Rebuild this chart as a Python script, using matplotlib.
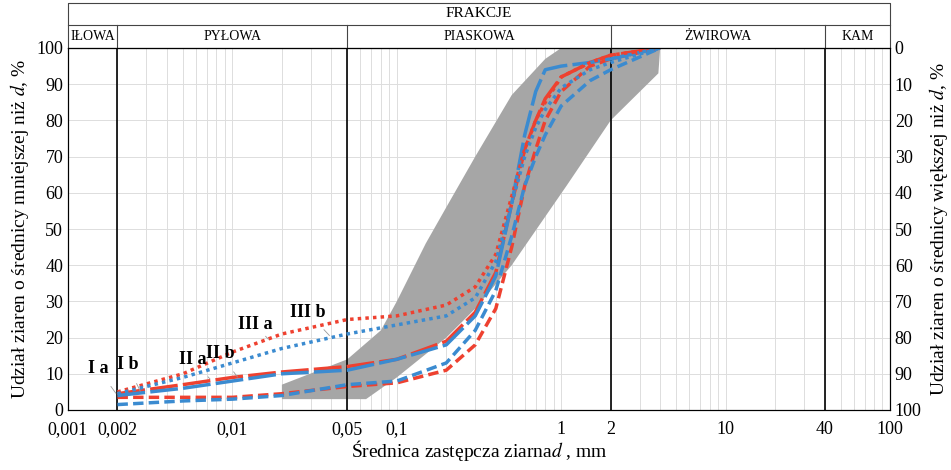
import matplotlib
matplotlib.use("Agg")
import matplotlib.pyplot as plt
import numpy as np

d = [0.002, 0.005, 0.01, 0.02, 0.05, 0.1, 0.2, 0.3, 0.4, 0.5, 0.6, 0.7, 0.8, 1, 1.5, 2, 4]
Ia   = [3.5, 3.5, 3.5, 4.5, 6.5, 7.5, 11, 18, 28, 45, 62, 72, 80, 88, 95, 97, 100]
Ib   = [1.5, 2.5, 3, 4, 7, 8, 13, 22, 33, 48, 62, 70, 76, 84, 91, 94, 100]
IIa  = [4.5, 7, 9, 10.5, 12, 14, 19, 27, 38, 57, 72, 80, 86, 92, 96, 98, 100]
IIb  = [4, 6, 8, 10, 11, 14, 18, 26, 37, 57, 76, 88, 94, 95, 96, 97, 100]
IIIa = [5, 10, 16, 21, 25, 26, 29, 34, 43, 59, 72, 80, 85, 92, 96, 98, 100]
IIIb = [4.5, 9, 13, 17, 21, 23.5, 26, 31, 41, 57, 70, 78, 83, 89, 94, 96, 100]

band_up_d = [0.02, 0.05, 0.08, 0.1, 0.15, 0.2, 0.3, 0.5, 0.8, 1.0, 4.0]
band_up = [7, 14, 22, 30, 46, 56, 70, 87, 97, 100, 100]
band_lo_d = [0.02, 0.065, 0.1, 0.2, 0.3, 0.5, 1.08, 2.0, 3.9]
band_lo = [3, 3, 9, 20, 28, 40, 62, 80, 93]

xticks = [0.001, 0.002, 0.01, 0.05, 0.1, 1, 2, 10, 40, 100]
xlabels = ["0,001", "0,002", "0,01", "0,05", "0,1", "1", "2", "10", "40", "100"]
bounds = [0.001, 0.002, 0.05, 2, 40, 100]
fractions = ["IŁOWA", "PYŁOWA", "PIASKOWA", "ŻWIROWA", "KAM"]

plt.rcParams['font.family'] = ['Liberation Serif', 'DejaVu Serif']
plt.rcParams['mathtext.fontset'] = 'stix'
fig = plt.figure(figsize=(9.51, 4.70), dpi=100)
ax = fig.add_axes([68/951, 60/470, 822/951, 362/470])
ax.set_xscale('log')
ax.set_xlim(0.001, 100)
ax.set_ylim(0, 100)

poly_x = band_up_d + band_lo_d[::-1]
poly_y = band_up + band_lo[::-1]
ax.fill(poly_x, poly_y, color='#a6a6a6', lw=0, zorder=1)

red = '#ee4130'; blue = '#3b8bd0'
ax.plot(d, Ia, color=red, lw=2.5, ls=(0, (3, 1.5)), zorder=3)
ax.plot(d, Ib, color=blue, lw=2.5, ls=(0, (3, 1.5)), zorder=3)
ax.plot(d, IIa, color=red, lw=2.5, ls=(0, (8, 1.5)), zorder=3)
ax.plot(d, IIb, color=blue, lw=2.5, ls=(0, (8, 1.5)), zorder=3)
ax.plot(d, IIIa, color=red, lw=2.5, ls=(0, (1, 1.2)), zorder=3)
ax.plot(d, IIIb, color=blue, lw=2.5, ls=(0, (1, 1.2)), zorder=3)

ax.grid(True, which='both', axis='x', color='#dddddd', lw=0.7, zorder=0)
ax.grid(True, which='major', axis='y', color='#dddddd', lw=0.7, zorder=0)
ax.set_axisbelow(True)
for b in bounds[1:-1]:
    ax.axvline(b, color='black', lw=1.2, zorder=2)

ax.set_xticks(xticks)
ax.set_xticklabels(xlabels, fontsize=13)
ax.xaxis.set_minor_formatter(matplotlib.ticker.NullFormatter())
ax.tick_params(which='both', length=0)
ax.tick_params(axis='x', pad=8)
ax.set_yticks(range(0, 101, 10))
ax.tick_params(axis='y', labelsize=13)
ax.set_xlabel("Średnica zastępcza ziarna$d$ , mm", fontsize=14, labelpad=0)
ax.set_ylabel("Udział ziaren o średnicy mniejszej niż $d$, %", fontsize=14)
ax2 = ax.twinx()
ax2.set_ylim(100, 0)
ax2.set_yticks(range(0, 101, 10))
ax2.tick_params(length=0, labelsize=13)
ax2.set_ylabel("Udział ziaren o średnicy większej niż $d$, %", fontsize=14)

# header
tr = ax.get_xaxis_transform()
ytop, ymid = 1 + 45/362, 1 + 23/362
ax.plot([0.001, 100, 100, 0.001, 0.001], [1, 1, ytop, ytop, 1], transform=tr, color='#444444', lw=0.8, clip_on=False)
ax.plot([0.001, 100], [ymid, ymid], transform=tr, color='#444444', lw=0.8, clip_on=False)
for b in bounds[1:-1]:
    ax.plot([b, b], [1, ymid], transform=tr, color='#444444', lw=0.8, clip_on=False)
ax.text(np.sqrt(0.001*100), (ymid+ytop)/2, "FRAKCJE", transform=tr, ha='center', va='center', fontsize=11)
for i, name in enumerate(fractions):
    xc = np.sqrt(bounds[i]*bounds[i+1])
    ax.text(xc, (1+ymid)/2, name, transform=tr, ha='center', va='center', fontsize=10)

# labels
lab = [("I a", 0.00152, 11.5, 0.002, 4), ("I b", 0.0023, 12.5, 0.0028, 4.5),
       ("II a", 0.0057, 14, 0.0075, 8), ("II b", 0.0084, 15.5, 0.011, 8.5),
       ("III a", 0.0137, 23.5, 0.017, 19), ("III b", 0.0287, 27, 0.04, 20)]
for t, x, y, px, py in lab:
    ax.annotate(t, xy=(px, py), xytext=(x, y), fontsize=13, fontweight='bold', ha='center', va='center',
                arrowprops=dict(arrowstyle='-', color='#999999', lw=0.6, shrinkA=6), zorder=5)

fig.savefig("out.png", dpi=100)
